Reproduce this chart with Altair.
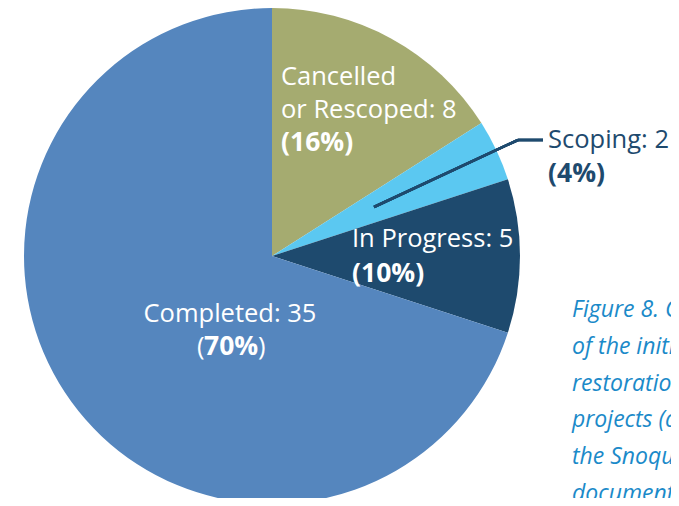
import altair as alt
import pandas as pd

# ---- data ----
categories = ["Cancelled or Rescoped", "Scoping", "In Progress", "Completed"]
counts = [8, 2, 5, 35]
percents = [16, 4, 10, 70]
colors = ["#A5AB70", "#5BC8F1", "#1E4A6E", "#5586BE"]
caption_lines = ["Figure 8. Current status", "of the initial 50", "restoration",
                 "projects (as listed in", "the Snoqualmie", "document)"]

# ---- layout ----
W, H = 663, 490
CX, CY, R = 264, 248, 248
FONT = "Open Sans"
FS = 25.5
FSB = 26.5
NAVY = "#1E4A6E"
CAP_COLOR = "#1B8AC9"

pie_df = pd.DataFrame({"category": categories, "count": counts,
                       "order": list(range(len(categories)))})

pie = alt.Chart(pie_df).mark_arc(radius=R).encode(
    theta=alt.Theta("count:Q", stack=True),
    order=alt.Order("order:Q"),
    color=alt.Color("category:N", scale=alt.Scale(domain=categories, range=colors), legend=None),
    x=alt.value(CX), y=alt.value(CY),
)

# label texts built from the data
name_lines = {
    "Cancelled or Rescoped": ["Cancelled", "or Rescoped"],
    "Scoping": ["Scoping"],
    "In Progress": ["In Progress"],
    "Completed": ["Completed"],
}
label_pos = {  # (x, first baseline, line step, color, align)
    "Cancelled or Rescoped": (273, 77, 33, "white", "left"),
    "Scoping": (540, 140, 34, NAVY, "left"),
    "In Progress": (344, 239, 35, "white", "left"),
    "Completed": (222, 314, 0, "white", "center"),
}

reg_rows, bold_rows = [], []
for cat, n, p in zip(categories, counts, percents):
    x, y0, step, col, al = label_pos[cat]
    lines = list(name_lines[cat])
    lines[-1] = f"{lines[-1]}: {n}"
    for i, t in enumerate(lines):
        reg_rows.append({"t": t, "x": x, "y": y0 + i * step, "c": col, "a": al})
    if cat == "Completed":
        by = y0 + 33
        reg_rows.append({"t": "(", "x": 189, "y": by, "c": col, "a": "left"})
        bold_rows.append({"t": f"{p}%", "x": 196, "y": by, "c": col, "a": "left"})
        reg_rows.append({"t": ")", "x": 250, "y": by, "c": col, "a": "left"})
    else:
        bold_rows.append({"t": f"({p}%)", "x": x, "y": y0 + len(lines) * step, "c": col, "a": al})

def text_layer(rows, weight, align, size):
    df = pd.DataFrame([r for r in rows if r["a"] == align])
    return alt.Chart(df).mark_text(font=FONT, fontSize=size, fontWeight=weight,
                                   align=align, baseline="alphabetic").encode(
        x=alt.X("x:Q", scale=None, axis=None),
        y=alt.Y("y:Q", scale=None, axis=None),
        text="t:N",
        color=alt.Color("c:N", scale=None),
    )

layers = [pie]
for rows, w, size in ((reg_rows, "normal", FS), (bold_rows, "bold", FSB)):
    for al in ("left", "center"):
        if any(r["a"] == al for r in rows):
            layers.append(text_layer(rows, w, al, size))

cap_df = pd.DataFrame({"t": caption_lines,
                       "y": [309 + 36.8 * i for i in range(len(caption_lines))]})
caption = alt.Chart(cap_df).mark_text(font=FONT, fontSize=23, fontStyle="italic",
                                      color=CAP_COLOR, align="left", baseline="alphabetic").encode(
    x=alt.value(564), y=alt.Y("y:Q", scale=None, axis=None), text="t:N")
layers.append(caption)

leader1 = alt.Chart(pie_df).mark_rule(color=NAVY, strokeWidth=2.5).encode(
    x=alt.value(366), y=alt.value(199), x2=alt.value(510), y2=alt.value(132))
leader2 = alt.Chart(pie_df).mark_rule(color=NAVY, strokeWidth=2.5).encode(
    x=alt.value(510), y=alt.value(132), x2=alt.value(535), y2=alt.value(132))
layers += [leader1, leader2]

chart = alt.layer(*layers).properties(
    width=W, height=H, autosize="none", padding=0
).configure_view(stroke=None)

chart.save("out.html", embed_options={"renderer": "svg", "actions": False})
